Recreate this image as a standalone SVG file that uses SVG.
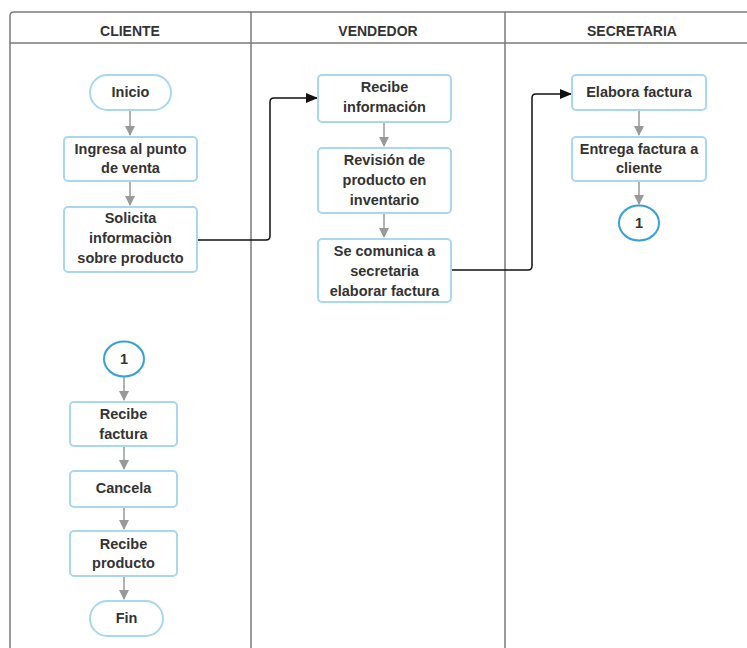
<svg xmlns="http://www.w3.org/2000/svg" width="747" height="648" viewBox="0 0 747 648">
<style>
.lane{fill:none;stroke:#7a7a7a;stroke-width:1.5}
.hdr{font-family:"Liberation Sans",Arial,sans-serif;font-weight:bold;font-size:14px;fill:#333;text-anchor:middle}
.box{fill:#fff;stroke:#a8d8f0;stroke-width:2}
.circ{fill:#fff;stroke:#3aa0d8;stroke-width:2}
.t{font-family:"Liberation Sans",Arial,sans-serif;font-weight:bold;font-size:14.5px;fill:#333;text-anchor:middle}
.g{fill:none;stroke:#999;stroke-width:1.5}
.k{fill:none;stroke:#111;stroke-width:1.5}
</style>
<defs>
<marker id="ag" markerWidth="10" markerHeight="10" refX="9" refY="5" orient="auto" markerUnits="userSpaceOnUse"><path d="M0,0 L10,5 L0,10 Z" fill="#999"/></marker>
<marker id="ak" markerWidth="12" markerHeight="10" refX="11" refY="5" orient="auto" markerUnits="userSpaceOnUse"><path d="M0,0 L12,5 L0,10 Z" fill="#111"/></marker>
</defs>
<rect width="747" height="648" fill="#fff"/>
<g id="lanes">
<path class="lane" d="M10,650 L10,16 Q10,12 14,12 L750,12"/>
<line class="lane" x1="10" y1="43" x2="750" y2="43"/>
<line class="lane" x1="251" y1="12" x2="251" y2="650"/>
<line class="lane" x1="505" y1="12" x2="505" y2="650"/>
<text class="hdr" x="130" y="36">CLIENTE</text>
<text class="hdr" x="378" y="36">VENDEDOR</text>
<text class="hdr" x="632" y="36">SECRETARIA</text>
</g>
<g id="connectors">
<line class="g" x1="130" y1="111" x2="130" y2="135" marker-end="url(#ag)"/>
<line class="g" x1="130" y1="182" x2="130" y2="205" marker-end="url(#ag)"/>
<path class="k" d="M198,240 L266,240 Q270,240 270,236 L270,102 Q270,98 274,98 L317,98" marker-end="url(#ak)"/>
<line class="g" x1="384" y1="123" x2="384" y2="146" marker-end="url(#ag)"/>
<line class="g" x1="384" y1="214" x2="384" y2="237" marker-end="url(#ag)"/>
<path class="k" d="M452,270 L528,270 Q532,270 532,266 L532,98 Q532,94 536,94 L571,94" marker-end="url(#ak)"/>
<line class="g" x1="639" y1="111" x2="639" y2="135" marker-end="url(#ag)"/>
<line class="g" x1="639" y1="182" x2="639" y2="204" marker-end="url(#ag)"/>
<line class="g" x1="124" y1="377" x2="124" y2="400" marker-end="url(#ag)"/>
<line class="g" x1="124" y1="447" x2="124" y2="469" marker-end="url(#ag)"/>
<line class="g" x1="124" y1="508" x2="124" y2="529" marker-end="url(#ag)"/>
<line class="g" x1="124" y1="577" x2="124" y2="599" marker-end="url(#ag)"/>
</g>
<g id="inicio"><rect class="box" x="90" y="75" width="81" height="35" rx="17.5"/><text class="t" x="130.5" y="97">Inicio</text></g>
<g id="ingresa"><rect class="box" x="64" y="137" width="133" height="44" rx="4"/><text class="t" x="130.5" y="154">Ingresa al punto</text><text class="t" x="130.5" y="173">de venta</text></g>
<g id="solicita"><rect class="box" x="64" y="207" width="133" height="65" rx="4"/><text class="t" x="130.5" y="223">Solicita</text><text class="t" x="130.5" y="243">informaciòn</text><text class="t" x="130.5" y="263">sobre producto</text></g>
<g id="recibe-info"><rect class="box" x="318" y="75" width="133" height="47" rx="4"/><text class="t" x="384.5" y="92">Recibe</text><text class="t" x="384.5" y="112">información</text></g>
<g id="revision"><rect class="box" x="318" y="148" width="133" height="65" rx="4"/><text class="t" x="384.5" y="165">Revisión de</text><text class="t" x="384.5" y="185">producto en</text><text class="t" x="384.5" y="205">inventario</text></g>
<g id="comunica"><rect class="box" x="318" y="239" width="133" height="63" rx="4"/><text class="t" x="384.5" y="256">Se comunica a</text><text class="t" x="384.5" y="276">secretaria</text><text class="t" x="384.5" y="296">elaborar factura</text></g>
<g id="elabora"><rect class="box" x="572" y="75" width="134" height="35" rx="4"/><text class="t" x="639" y="97">Elabora factura</text></g>
<g id="entrega"><rect class="box" x="572" y="137" width="134" height="44" rx="4"/><text class="t" x="639" y="154">Entrega factura a</text><text class="t" x="639" y="173">cliente</text></g>
<g id="conector1-sec"><ellipse class="circ" cx="639" cy="223" rx="20" ry="17.5"/><text class="t" x="639" y="228">1</text></g>
<g id="conector1-cli"><ellipse class="circ" cx="124" cy="359" rx="20" ry="17.5"/><text class="t" x="124" y="364">1</text></g>
<g id="recibe-factura"><rect class="box" x="70" y="402" width="107" height="44" rx="4"/><text class="t" x="123.5" y="419">Recibe</text><text class="t" x="123.5" y="439">factura</text></g>
<g id="cancela"><rect class="box" x="70" y="471" width="107" height="36" rx="4"/><text class="t" x="123.5" y="493">Cancela</text></g>
<g id="recibe-producto"><rect class="box" x="70" y="531" width="107" height="45" rx="4"/><text class="t" x="123.5" y="549">Recibe</text><text class="t" x="123.5" y="568">producto</text></g>
<g id="fin"><rect class="box" x="90" y="601" width="73" height="35" rx="17.5"/><text class="t" x="126.5" y="623">Fin</text></g>
</svg>
